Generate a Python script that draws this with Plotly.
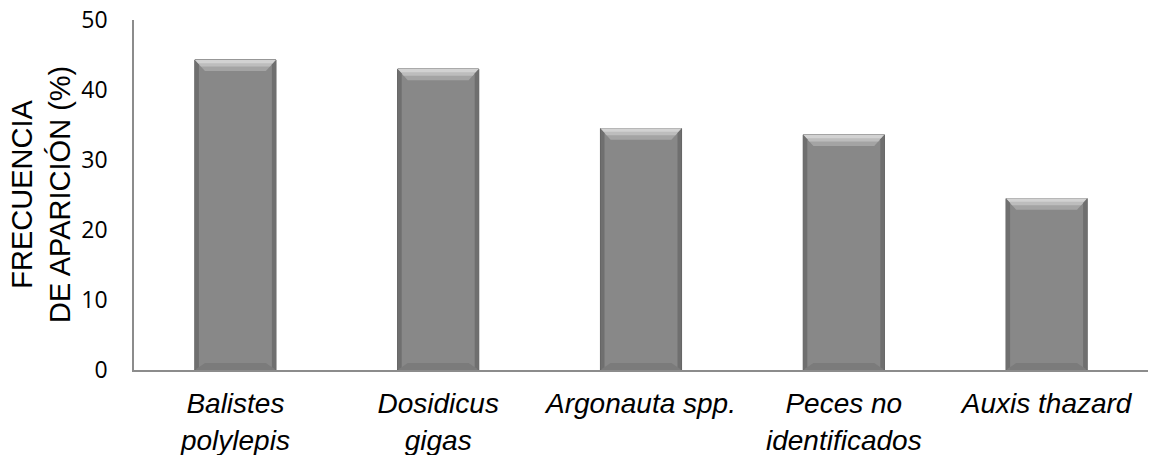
import plotly.graph_objects as go

categories = ["Balistes<br>polylepis", "Dosidicus<br>gigas", "Argonauta spp.",
              "Peces no<br>identificados", "Auxis thazard"]
values = [44.3, 43.0, 34.5, 33.6, 24.5]
y_ticks = [0, 10, 20, 30, 40, 50]

BAR_W = 0.4
xs = list(range(len(categories)))

fig = go.Figure()
fig.add_trace(go.Bar(
    x=xs, y=values, width=BAR_W,
    marker=dict(color="#888888", line=dict(color="#555555", width=1)),
    hoverinfo="skip", showlegend=False,
))

# bevel effect, derived from the data values
shapes = []
inset_x = 0.05
inset_top = 1.6
inset_bot = 1.0
for x, v in zip(xs, values):
    l, r = x - BAR_W / 2, x + BAR_W / 2
    # top bevel (light)
    shapes.append(dict(type="path", xref="x", yref="y",
                       path=f"M {l},{v} L {r},{v} L {r-inset_x},{v-inset_top} L {l+inset_x},{v-inset_top} Z",
                       fillcolor="#a4a4a4", line=dict(width=0), layer="above"))
    shapes.append(dict(type="path", xref="x", yref="y",
                       path=f"M {l},{v} L {r},{v} L {r-inset_x*0.6},{v-inset_top*0.6} L {l+inset_x*0.6},{v-inset_top*0.6} Z",
                       fillcolor="#bdbdbd", line=dict(width=0), layer="above"))
    shapes.append(dict(type="path", xref="x", yref="y",
                       path=f"M {l},{v} L {r},{v} L {r-inset_x*0.3},{v-inset_top*0.3} L {l+inset_x*0.3},{v-inset_top*0.3} Z",
                       fillcolor="#d2d2d2", line=dict(width=0), layer="above"))
    # bottom bevel (dark)
    shapes.append(dict(type="path", xref="x", yref="y",
                       path=f"M {l},0 L {r},0 L {r-inset_x},{inset_bot} L {l+inset_x},{inset_bot} Z",
                       fillcolor="#7b7b7b", line=dict(width=0), layer="above"))
    # side bevels (slightly dark)
    shapes.append(dict(type="path", xref="x", yref="y",
                       path=f"M {l},0 L {l+inset_x*0.4},{inset_bot*0.4} L {l+inset_x*0.4},{v-inset_top*0.4} L {l},{v} Z",
                       fillcolor="#6f6f6f", line=dict(width=0), layer="above"))
    shapes.append(dict(type="path", xref="x", yref="y",
                       path=f"M {r},0 L {r-inset_x*0.4},{inset_bot*0.4} L {r-inset_x*0.4},{v-inset_top*0.4} L {r},{v} Z",
                       fillcolor="#6f6f6f", line=dict(width=0), layer="above"))

fig.update_layout(
    width=1149, height=455,
    margin=dict(l=134, r=1, t=20, b=85),
    paper_bgcolor="white", plot_bgcolor="white",
    shapes=shapes,
    xaxis=dict(
        range=[-0.5, len(categories) - 0.5],
        tickvals=xs, ticktext=categories,
        showgrid=False, zeroline=False, automargin=False,
        showline=True, linecolor="#8c8c8c", linewidth=1.5,
        ticks="", ticklabelstandoff=8,
        tickfont=dict(family="Liberation Sans, Arial", size=28, color="black", style="italic"),
        tickangle=0,
    ),
    yaxis=dict(
        range=[0, 50], tickvals=y_ticks,
        showgrid=False, zeroline=False, automargin=False,
        showline=True, linecolor="#8c8c8c", linewidth=1.5,
        ticks="", ticklabelstandoff=20,
        tickfont=dict(family="Open Sans", size=23, color="black"),
    ),
    annotations=[dict(
        text="FRECUENCIA<br>DE APARICIÓN (%)",
        xref="paper", yref="paper", x=0, y=0.5,
        xanchor="center", yanchor="middle", xshift=-93,
        textangle=-90, showarrow=False,
        font=dict(family="Liberation Sans, Arial", size=29, color="black"),
    )],
)

# remove the default page margin so the figure fills the window exactly
fig.write_html("out.html", config={"displayModeBar": False},
               post_script="document.body.style.margin='0';")
